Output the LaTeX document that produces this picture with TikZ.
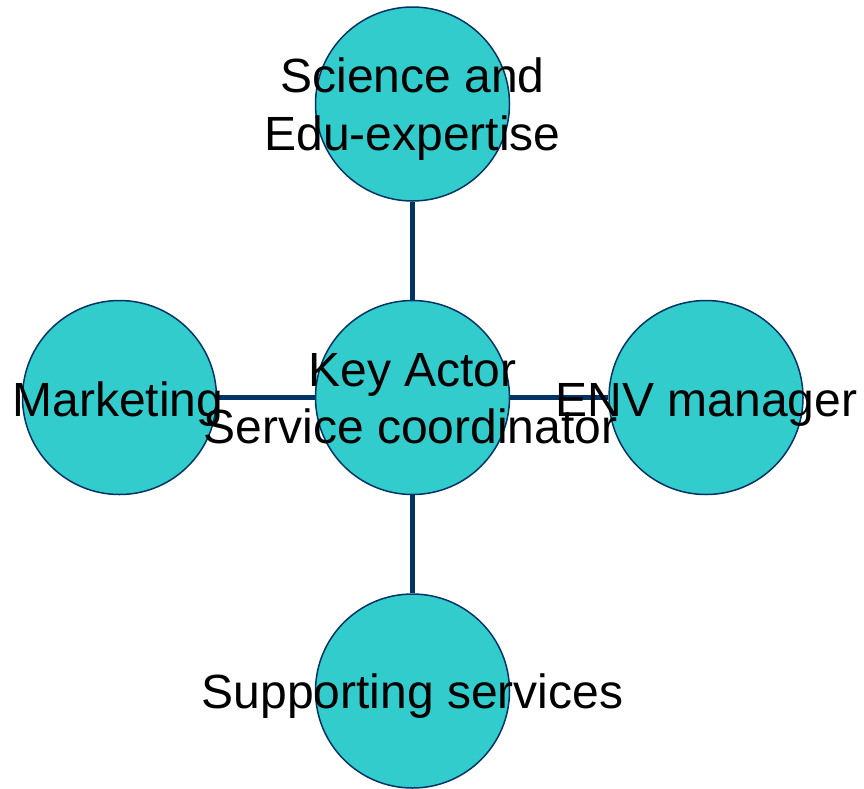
\documentclass[tikz,border=0pt]{standalone}
\usepackage{fontspec}
\setmainfont{Liberation Sans}
\definecolor{turq}{HTML}{33CCCC}
\definecolor{navy}{HTML}{003366}
\begin{document}
\begin{tikzpicture}[x=1pt,y=-1pt,
  bubble/.style={circle,fill=turq,draw=navy,line width=1.5pt,minimum size=194pt,inner sep=0pt},
  link/.style={draw=navy,line width=5pt},
  lbl/.style={anchor=base,inner sep=0pt,font=\fontsize{48}{57}\selectfont,text=black}]
\useasboundingbox (0,0) rectangle (864,788);
\node[bubble] (top) at (412.5,104) {};
\node[bubble] (mid) at (412.5,397.5) {};
\node[bubble] (left) at (119.5,397.5) {};
\node[bubble] (right) at (706,397.5) {};
\node[bubble] (bot) at (412.5,691) {};
\draw[link] (mid) -- (top);
\draw[link] (mid) -- (left);
\draw[link] (mid) -- (right);
\draw[link] (mid) -- (bot);
\node[lbl] (t1) at (412.5,92.7) {Science and};
\node[lbl] (t2) at (412.5,150) {Edu-expertise};
\node[lbl] (m1) at (412.5,386.7) {Key Actor};
\node[lbl] (m2) at (410.5,443.3) {Service coordinator};
\node[lbl] (l1) at (118,416) {Marketing};
\node[lbl] (r1) at (706.5,416) {ENV manager};
\node[lbl] (b1) at (412.5,708) {Supporting services};
\end{tikzpicture}
\end{document}
